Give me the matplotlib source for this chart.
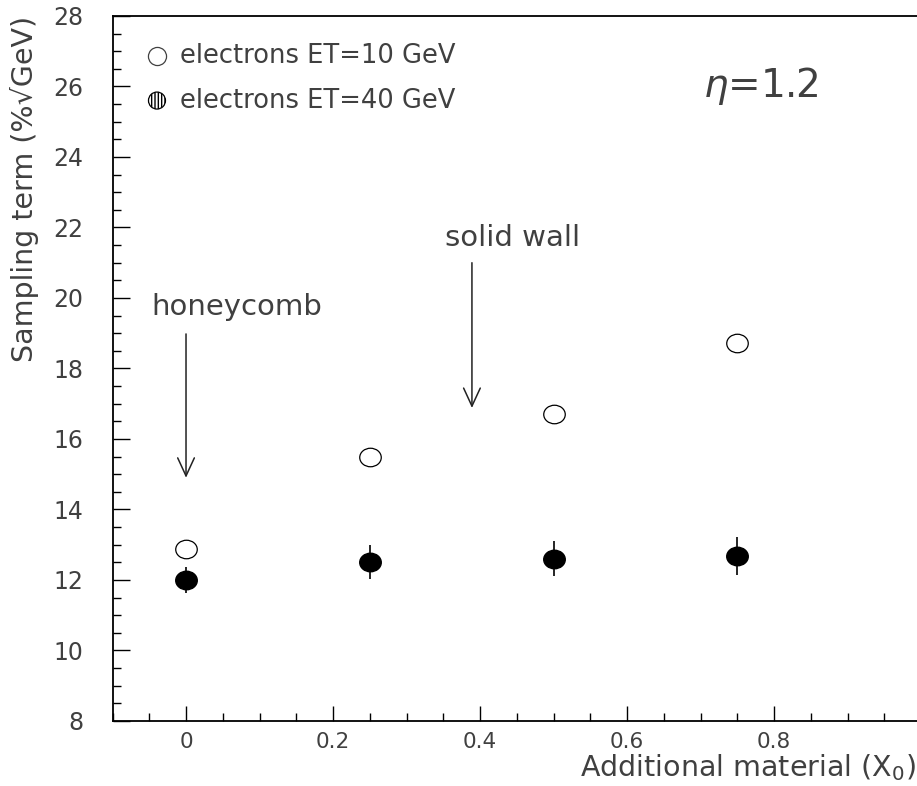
import matplotlib.pyplot as plt
import matplotlib.ticker as mticker
from matplotlib.path import Path
from matplotlib.transforms import Affine2D

# sampling term vs. additional material in front of the calorimeter
material = [0.0, 0.25, 0.5, 0.75]
samp_10gev = [12.87, 15.5, 16.72, 18.72]
samp_40gev = [12.0, 12.5, 12.6, 12.68]
err_40gev = [0.36, 0.48, 0.5, 0.55]

TXT = '#404040'
plt.rcParams['font.family'] = ['DejaVu Sans']

# slightly flattened circle marker
ell = Path.unit_circle().transformed(Affine2D().scale(1.0, 0.86))

fig = plt.figure(figsize=(9.17, 7.86), dpi=100)
ax = fig.add_axes([0.1227, 0.0827, 0.8817, 0.897])

ax.errorbar(material, samp_40gev, yerr=err_40gev, fmt='none', ecolor='black',
            elinewidth=1.2, capsize=0, zorder=2)
ax.plot(material, samp_40gev, linestyle='none', marker=ell, markersize=15.5,
        markerfacecolor='black', markeredgecolor='black', zorder=3)
ax.plot(material, samp_10gev, linestyle='none', marker=ell, markersize=15.5,
        markerfacecolor='white', markeredgecolor='black', markeredgewidth=0.9, zorder=3)

ax.set_xlim(-0.1, 1.0)
ax.set_ylim(8, 28)
ax.xaxis.set_major_locator(mticker.MultipleLocator(0.2))
ax.xaxis.set_minor_locator(mticker.MultipleLocator(0.05))
ax.yaxis.set_major_locator(mticker.MultipleLocator(2))
ax.yaxis.set_minor_locator(mticker.MultipleLocator(0.5))
ax.xaxis.set_major_formatter(mticker.FuncFormatter(
    lambda v, p: '' if v > 0.95 or v < -0.05 else ('0' if abs(v) < 1e-9 else f'{v:.1f}')))

ax.tick_params(which='both', direction='in', top=False, right=False, colors='black')
ax.tick_params(axis='x', which='major', length=11, width=1.0, pad=8, labelsize=15.5, labelcolor=TXT)
ax.tick_params(axis='x', which='minor', length=5.5, width=1.0)
ax.tick_params(axis='y', which='major', length=12, width=1.0, pad=21, labelsize=17, labelcolor=TXT)
ax.tick_params(axis='y', which='minor', length=6, width=1.0)
for s in ax.spines.values():
    s.set_linewidth(1.3)

fig.text(0.999, 1 - 768 / 786, 'Additional material (X$_{\\mathregular{0}}$)',
         ha='right', va='center', fontsize=20.5, color=TXT)
fig.text(25 / 917, 1 - 16 / 786, 'Sampling term (%\u221aGeV)', rotation=90,
         ha='center', va='top', fontsize=20.5, color=TXT)

# legend drawn by hand
ax.scatter([0.055], [0.943], s=170, marker='o', facecolor='white', edgecolor=TXT,
           linewidth=0.9, transform=ax.transAxes, clip_on=False)
ax.scatter([0.055], [0.88], s=150, marker='o', facecolor='white', edgecolor='black',
           hatch='|||||', linewidth=0.9, transform=ax.transAxes, clip_on=False)
ax.text(0.083, 0.943, 'electrons ET=10 GeV', transform=ax.transAxes,
        ha='left', va='center', fontsize=18.5, color=TXT)
ax.text(0.083, 0.88, 'electrons ET=40 GeV', transform=ax.transAxes,
        ha='left', va='center', fontsize=18.5, color=TXT)
ax.text(0.73, 0.90, r'$\eta$=1.2', transform=ax.transAxes,
        ha='left', va='center', fontsize=28, color=TXT)

# material annotations
ax.text(-0.047, 19.74, 'honeycomb', ha='left', va='center', fontsize=21, color=TXT)
ax.annotate('', xy=(0.0, 14.9), xytext=(0.0, 18.98),
            arrowprops=dict(arrowstyle='->,head_length=1.3,head_width=0.6',
                            color='#222222', lw=1.1, shrinkA=0, shrinkB=0))
ax.text(0.352, 21.7, 'solid wall', ha='left', va='center', fontsize=21, color=TXT)
ax.annotate('', xy=(0.389, 16.88), xytext=(0.389, 21.0),
            arrowprops=dict(arrowstyle='->,head_length=1.3,head_width=0.6',
                            color='#222222', lw=1.1, shrinkA=0, shrinkB=0))

fig.savefig('out.png', dpi=100)
